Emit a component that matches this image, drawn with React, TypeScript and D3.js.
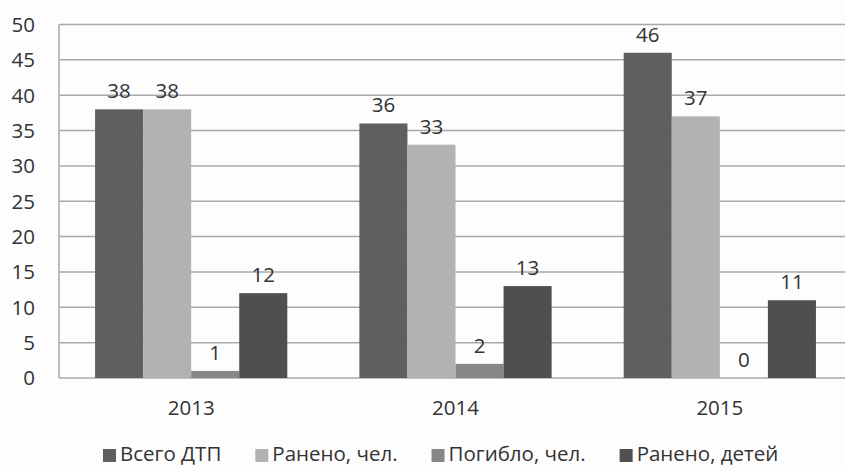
import React, { useEffect, useRef } from "react";
import * as d3 from "d3";

const years = ["2013", "2014", "2015"];
const seriesNames = ["Всего ДТП", "Ранено, чел.", "Погибло, чел.", "Ранено, детей"];
const totalAccidents = [38, 36, 46];
const injured = [38, 33, 37];
const killed = [1, 2, 0];
const injuredChildren = [12, 13, 11];
const yTicks = [0, 5, 10, 15, 20, 25, 30, 35, 40, 45, 50];
const colors = ["#5f5f5f", "#b2b2b2", "#878787", "#4f4f4f"];

const W = 845;
const H = 468;
const FONT = "'Open Sans', 'DejaVu Sans', sans-serif";

const App = () => {
  const svgRef = useRef<SVGSVGElement>(null);

  useEffect(() => {
    const svg = d3.select(svgRef.current);
    svg.selectAll("*").remove();

    // plot runs a little past the right edge, like the cropped original
    const margin = { left: 59, top: 24.5, right: -7, bottom: 90 };
    const series = [totalAccidents, injured, killed, injuredChildren];

    const x = d3.scaleBand<string>()
      .domain(years)
      .range([margin.left, W - margin.right])
      .paddingInner(0.2727)
      .paddingOuter(0.1364);
    const x1 = d3.scaleBand<number>()
      .domain(d3.range(seriesNames.length))
      .range([0, x.bandwidth()]);
    const y = d3.scaleLinear().domain([0, 50]).range([H - margin.bottom, margin.top]);

    svg.append("rect").attr("width", W).attr("height", H).attr("fill", "#fdfdfd");

    // gridlines
    svg.append("g")
      .selectAll("line")
      .data(yTicks)
      .join("line")
      .attr("x1", margin.left)
      .attr("x2", W + 10)
      .attr("y1", (d) => y(d))
      .attr("y2", (d) => y(d))
      .attr("stroke", "#a9a9a9")
      .attr("stroke-width", 1.5);

    svg.append("line")
      .attr("x1", margin.left).attr("x2", margin.left)
      .attr("y1", y(50)).attr("y2", y(0))
      .attr("stroke", "#a9a9a9").attr("stroke-width", 1.5);

    // y tick labels
    svg.append("g")
      .selectAll("text")
      .data(yTicks)
      .join("text")
      .attr("x", 35)
      .attr("y", (d) => y(d))
      .attr("dy", "0.36em")
      .attr("text-anchor", "end")
      .attr("font-family", FONT)
      .attr("font-size", 20.5)
      .attr("fill", "#333")
      .text((d) => d);

    // bars
    const groups = svg.append("g")
      .selectAll("g")
      .data(years)
      .join("g")
      .attr("transform", (d) => `translate(${x(d)},0)`);

    groups.selectAll("rect")
      .data((_, i) => series.map((s, k) => ({ k, v: s[i] })))
      .join("rect")
      .attr("x", (d) => x1(d.k)!)
      .attr("width", x1.bandwidth())
      .attr("y", (d) => y(d.v))
      .attr("height", (d) => y(0) - y(d.v))
      .attr("fill", (d) => colors[d.k]);

    groups.selectAll("text")
      .data((_, i) => series.map((s, k) => ({ k, v: s[i] })))
      .join("text")
      .attr("x", (d) => x1(d.k)! + x1.bandwidth() / 2)
      .attr("y", (d) => y(d.v) - 11)
      .attr("text-anchor", "middle")
      .attr("font-family", FONT)
      .attr("font-size", 20.5)
      .attr("fill", "#333")
      .text((d) => d.v);

    // category labels
    svg.append("g")
      .selectAll("text")
      .data(years)
      .join("text")
      .attr("x", (d) => x(d)! + x.bandwidth() / 2)
      .attr("y", 415)
      .attr("text-anchor", "middle")
      .attr("font-family", FONT)
      .attr("font-size", 20.5)
      .attr("fill", "#333")
      .text((d) => d);

    // legend
    const legend = svg.append("g");
    let lx = 103;
    seriesNames.forEach((name, i) => {
      legend.append("rect")
        .attr("x", lx).attr("y", 449)
        .attr("width", 13).attr("height", 13)
        .attr("fill", colors[i]);
      const t = legend.append("text")
        .attr("x", lx + 17)
        .attr("y", 461)
        .attr("font-family", FONT)
        .attr("font-size", 20.5)
        .attr("fill", "#333")
        .text(name);
      const w = (t.node() as SVGTextElement).getComputedTextLength();
      lx += 17 + w + 34;
    });
  }, []);

  return (
    <svg ref={svgRef} width={W} height={H} style={{ display: "block", position: "absolute", left: 0, top: 0 }} />
  );
};

export default App;
